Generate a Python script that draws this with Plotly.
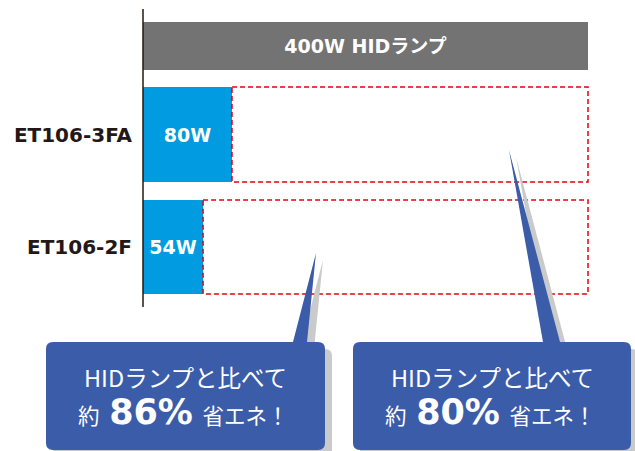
import plotly.graph_objects as go

# ---------------- data ----------------
categories = ["ET106-3FA", "ET106-2F"]
watts = [80, 54]
ref_watt = 400
ref_label = "400W HIDランプ"
callout_line1 = "HIDランプと比べて"
callout_pct = [86, 80]          # left callout (ET106-2F), right callout (ET106-3FA)

# ---------------- layout constants (pixels) ----------------
W, H = 635, 451
L = 143                     # left margin = axis position
X400 = 588                  # pixel where the reference value ends
PW = W - L
xmax = ref_watt * PW / (X400 - L)

ref_y, ref_h = 46, 48
row_y = [134.5, 247]
row_h = [95, 94]

BOLD = "DejaVu Sans, Noto Sans CJK JP"
JP = "Noto Sans CJK JP, DejaVu Sans"
GRAY = "#737373"
BLUE = "#009be0"
CALL = "#3b5ca9"
SHADOW = "#c9caca"
RED = "#e60012"
NB = "\u00a0"


def P(px, py):
    return (px - L) / PW, 1 - py / H


fig = go.Figure()

fig.add_bar(
    x=[ref_watt], y=[ref_y], width=[ref_h], base=0, orientation="h",
    marker=dict(color=GRAY, line_width=0),
    text=[ref_label], textposition="inside", insidetextanchor="middle",
    textfont=dict(color="white", size=19, family=BOLD, weight="bold"),
    hoverinfo="skip", showlegend=False,
)
fig.add_bar(
    x=watts, y=row_y, width=row_h, base=0, orientation="h",
    marker=dict(color=BLUE, line_width=0),
    text=[f"{w}W" for w in watts], textposition="inside", insidetextanchor="middle",
    textfont=dict(color="white", size=19, family=BOLD, weight="bold"),
    constraintext="none",
    hoverinfo="skip", showlegend=False,
)

shapes = []
# dashed "saved" boxes from each value up to the reference value
for v, yc, h in zip(watts, row_y, row_h):
    shapes.append(dict(
        type="rect", xref="x", yref="y", x0=v, x1=ref_watt,
        y0=yc - h / 2, y1=yc + h / 2,
        line=dict(color=RED, width=1.5, dash="5px,3px"), fillcolor="rgba(0,0,0,0)",
        layer="above",
    ))

# axis line
x0p, y0p = P(L, 9)
_, y1p = P(L, 307)
shapes.append(dict(type="line", xref="paper", yref="paper", x0=x0p, x1=x0p, y0=y0p, y1=y1p,
                   line=dict(color="#231815", width=1.5), layer="above"))


def callout_path(bx0, bx1, by0, by1, t0, t1, tipx, tipy, dx=0, dy=0, r=7):
    def pt(cmd, x, y):
        px, py = P(x + dx, y + dy)
        return f"{cmd}{px:.5f},{py:.5f}"
    s = pt("M", bx0 + r, by0)
    s += " " + pt("L", t0, by0)
    s += " " + pt("L", tipx, tipy)
    s += " " + pt("L", t1, by0)
    s += " " + pt("L", bx1 - r, by0)
    s += " " + pt("Q", bx1, by0) + " " + pt("", bx1, by0 + r)
    s += " " + pt("L", bx1, by1 - r)
    s += " " + pt("Q", bx1, by1) + " " + pt("", bx1 - r, by1)
    s += " " + pt("L", bx0 + r, by1)
    s += " " + pt("Q", bx0, by1) + " " + pt("", bx0, by1 - r)
    s += " " + pt("L", bx0, by0 + r)
    s += " " + pt("Q", bx0, by0) + " " + pt("", bx0 + r, by0)
    return s + " Z"


callouts = [
    dict(bx0=46, bx1=325, by0=342, by1=450, t0=293, t1=307, tipx=316, tipy=253),
    dict(bx0=353, bx1=631, by0=342, by1=450, t0=543, t1=560, tipx=509, tipy=150),
]

annotations = []
for c, pct in zip(callouts, callout_pct):
    shapes.append(dict(type="path", xref="paper", yref="paper",
                       path=callout_path(**c, dx=7, dy=7), fillcolor=SHADOW,
                       line=dict(width=0), layer="above"))
    shapes.append(dict(type="path", xref="paper", yref="paper",
                       path=callout_path(**c), fillcolor=CALL,
                       line=dict(width=0), layer="above"))
    cx = (c["bx0"] + c["bx1"]) / 2
    ax, ay = P(cx, 377)
    annotations.append(dict(xref="paper", yref="paper", x=ax, y=ay, showarrow=False,
                            text=callout_line1, xanchor="center", yanchor="middle",
                            font=dict(color="white", size=23.5, family=JP)))
    ax, ay = P(cx - 2, 412)
    annotations.append(dict(
        xref="paper", yref="paper", x=ax, y=ay, showarrow=False,
        xanchor="center", yanchor="middle",
        text=(f'約{NB}{NB}<b><span style="font-family:DejaVu Sans;font-size:35px">{pct}%</span></b>'
              f'{NB}{NB}省エネ！'),
        font=dict(color="white", size=21.5, family=JP)))

fig.update_layout(
    width=W, height=H,
    margin=dict(l=L, r=0, t=0, b=0),
    paper_bgcolor="white", plot_bgcolor="white",
    barmode="overlay",
    xaxis=dict(range=[0, xmax], visible=False, fixedrange=True),
    yaxis=dict(range=[H, 0], showgrid=False, zeroline=False, showline=False,
               tickvals=row_y, ticktext=categories, ticks="", ticklabelstandoff=10,
               tickfont=dict(size=20, color="#231815", family=BOLD, weight="bold"),
               fixedrange=True),
    shapes=shapes,
    annotations=annotations,
    showlegend=False,
)

fig.write_html("out.html", config={"displayModeBar": False},
               post_script="document.body.style.margin='0';document.body.style.overflow='hidden';")
